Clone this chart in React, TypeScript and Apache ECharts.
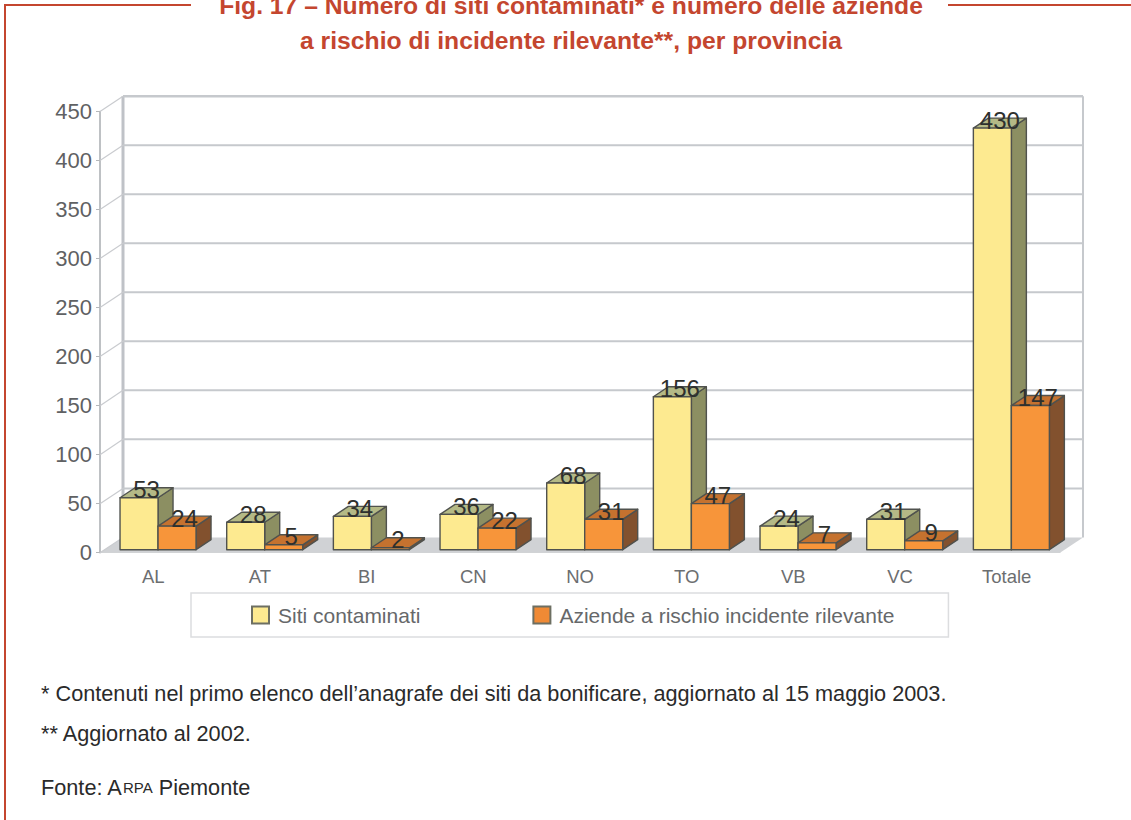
import React, { useEffect, useRef } from "react";
import * as echarts from "echarts";

const categories = ["AL", "AT", "BI", "CN", "NO", "TO", "VB", "VC", "Totale"];
const sitiContaminati = [53, 28, 34, 36, 68, 156, 24, 31, 430];
const aziendeRischio = [24, 5, 2, 22, 31, 47, 7, 9, 147];
const yTicks = [0, 50, 100, 150, 200, 250, 300, 350, 400, 450];
const legendNames = ["Siti contaminati", "Aziende a rischio incidente rilevante"];
const titleText =
  "Fig. 17 – Numero di siti contaminati* e numero delle aziende\na rischio di incidente rilevante**, per provincia";
const notes = [
  "* Contenuti nel primo elenco dell’anagrafe dei siti da bonificare, aggiornato al 15 maggio 2003.",
  "** Aggiornato al 2002.",
];
const source = "Fonte: A{s|RPA} Piemonte";

const FONT = "'Liberation Sans', Arial, sans-serif";
const RED = "#c4462f";
const WALL_DX = 23;
const WALL_DY = 15.3;
const BAR_DX = 15;
const BAR_DY = 10;
const BAR_W = 38;
const BAR_LIFT = 3;
const LINE = "#50524e";

const wallItem = (params: any, api: any) => {
  const v = api.value(1);
  const [x0, y] = api.coord([0, v]);
  const cs = params.coordSys;
  const x1 = cs.x + cs.width;
  const wall = "#c6c9cd";
  const children: any[] = [];
  if (v === 0) {
    children.push({
      type: "polygon",
      shape: {
        points: [
          [cs.x, y],
          [cs.x + WALL_DX, y - WALL_DY],
          [x1 + WALL_DX, y - WALL_DY],
          [x1, y],
        ],
      },
      style: { fill: "#d0d2d5", stroke: "none" },
    });
    const top = api.coord([0, yTicks[yTicks.length - 1]])[1] - WALL_DY;
    children.push({
      type: "line",
      shape: { x1: cs.x + WALL_DX, y1: top, x2: cs.x + WALL_DX, y2: y - WALL_DY },
      style: { stroke: "#bfc2c7", lineWidth: 3 },
    });
    children.push({
      type: "line",
      shape: { x1: x1 + WALL_DX, y1: top, x2: x1 + WALL_DX, y2: y - WALL_DY },
      style: { stroke: wall, lineWidth: 2 },
    });
  } else {
    children.push({
      type: "line",
      shape: { x1: cs.x + WALL_DX, y1: y - WALL_DY, x2: x1 + WALL_DX, y2: y - WALL_DY },
      style: { stroke: wall, lineWidth: v === 450 ? 2.5 : 2 },
    });
  }
  children.push({
    type: "line",
    shape: { x1: cs.x, y1: y, x2: cs.x + WALL_DX, y2: y - WALL_DY },
    style: { stroke: "#c9cbcf", lineWidth: 1.2 },
  });
  return { type: "group", children };
};

const barItem = (offset: number, front: string, side: string, top: string) => (_: any, api: any) => {
  const idx = api.value(0);
  const val = api.value(1);
  const [cx, y0] = api.coord([idx, 0]);
  const yTop = api.coord([idx, val])[1] - BAR_LIFT;
  const base = y0 - BAR_LIFT;
  const l = cx + offset;
  const r = l + BAR_W;
  const stroke = { stroke: LINE, lineWidth: 1.4, lineJoin: "round" };
  return {
    type: "group",
    children: [
      {
        type: "polygon",
        shape: { points: [[r, base], [r + BAR_DX, base - BAR_DY], [r + BAR_DX, yTop - BAR_DY], [r, yTop]] },
        style: { fill: side, ...stroke },
      },
      {
        type: "polygon",
        shape: { points: [[l, yTop], [l + BAR_DX, yTop - BAR_DY], [r + BAR_DX, yTop - BAR_DY], [r, yTop]] },
        style: { fill: top, ...stroke },
      },
      {
        type: "rect",
        shape: { x: l, y: yTop, width: BAR_W, height: base - yTop },
        style: { fill: front, ...stroke },
      },
      {
        type: "text",
        style: {
          text: String(val),
          x: l + BAR_W / 2 + BAR_DX / 2,
          y: yTop - 8,
          align: "center",
          verticalAlign: "middle",
          fill: "#2e302e",
          font: `24px ${FONT}`,
        },
      },
    ],
  };
};

const option: any = {
  animation: false,
  backgroundColor: "#ffffff",
  title: {
    text: titleText,
    left: 566,
    top: -17,
    textAlign: "center",
    textStyle: { color: RED, fontFamily: FONT, fontWeight: "bold", fontSize: 24.7, lineHeight: 35 },
  },
  grid: { left: 100, right: 71, top: 111.5, bottom: 267.3 },
  xAxis: {
    type: "category",
    data: categories,
    axisLine: { lineStyle: { color: "#d4d6d8", width: 1 } },
    axisTick: { length: 6, lineStyle: { color: "#c4c6c9" } },
    axisLabel: { color: "#6c6e70", fontFamily: FONT, fontSize: 18.5, margin: 14 },
    splitLine: { show: false },
  },
  yAxis: {
    type: "value",
    min: 0,
    max: 450,
    interval: 50,
    axisLine: { show: true, lineStyle: { color: "#a9acb1", width: 1.5 } },
    axisTick: { show: true, length: 4, lineStyle: { color: "#b5b7ba" } },
    axisLabel: { color: "#5f6163", fontFamily: FONT, fontSize: 22, margin: 8 },
    splitLine: { show: false },
  },
  legend: {
    data: legendNames,
    orient: "horizontal",
    left: 191,
    top: 593,
    icon: "rect",
    itemWidth: 17,
    itemHeight: 17,
    itemGap: 112,
    padding: [11.5, 54, 11.5, 60],
    backgroundColor: "#ffffff",
    borderColor: "#dcdddf",
    borderWidth: 1.5,
    selectedMode: false,
    textStyle: { color: "#66686a", fontFamily: FONT, fontSize: 21, padding: [0, 0, 0, 4] },
  },
  series: [
    {
      type: "custom",
      name: "wall",
      silent: true,
      renderItem: wallItem,
      data: yTicks.map((v) => [0, v]),
      z: 1,
    },
    {
      type: "custom",
      name: legendNames[0],
      renderItem: barItem(-33.3, "#fdea90", "#8c8f62", "#b4b986"),
      itemStyle: { color: "#fdea90", borderColor: "#6d6f62", borderWidth: 1.5 },
      data: sitiContaminati.map((v, i) => [i, v]),
      z: 3,
    },
    {
      type: "custom",
      name: legendNames[1],
      renderItem: barItem(4.7, "#f7953a", "#82512e", "#c5722f"),
      itemStyle: { color: "#f08a35", borderColor: "#6d6f62", borderWidth: 1.5 },
      data: aziendeRischio.map((v, i) => [i, v]),
      z: 3,
    },
  ],
  graphic: [
    { type: "line", shape: { x1: 5, y1: 5, x2: 5, y2: 820 }, style: { stroke: RED, lineWidth: 2 } },
    { type: "line", shape: { x1: 4, y1: 5, x2: 191, y2: 5 }, style: { stroke: RED, lineWidth: 2 } },
    { type: "line", shape: { x1: 948, y1: 5, x2: 1131, y2: 5 }, style: { stroke: RED, lineWidth: 2 } },
    {
      type: "text",
      x: 41,
      y: 693,
      style: { text: notes[0], fill: "#2a2a2a", font: `21.7px ${FONT}`, verticalAlign: "middle" },
    },
    {
      type: "text",
      x: 41,
      y: 733,
      style: { text: notes[1], fill: "#2a2a2a", font: `21.7px ${FONT}`, verticalAlign: "middle" },
    },
    {
      type: "text",
      x: 41,
      y: 787,
      style: {
        text: source,
        fill: "#2a2a2a",
        font: `21.7px ${FONT}`,
        verticalAlign: "middle",
        rich: { s: { fontSize: 15, fontFamily: FONT, fill: "#2a2a2a" } },
      },
    },
  ],
};

export default function App() {
  const ref = useRef<HTMLDivElement>(null);
  useEffect(() => {
    const chart = echarts.init(ref.current!, undefined, { renderer: "svg" });
    chart.setOption(option);
    return () => chart.dispose();
  }, []);
  return (
    <div
      ref={ref}
      style={{ position: "absolute", left: 0, top: 0, width: 1131, height: 820 }}
    />
  );
}
